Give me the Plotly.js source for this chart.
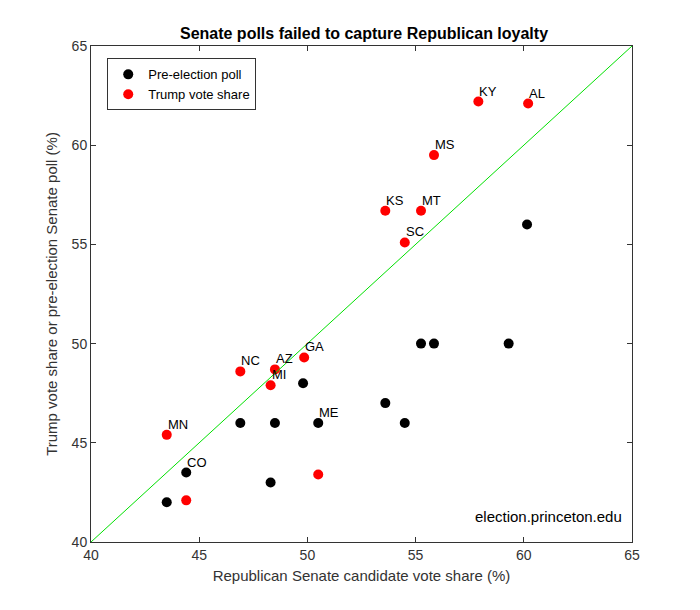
<!DOCTYPE html>
<html><head><meta charset="utf-8">
<script src="https://cdn.plot.ly/plotly-3.0.1.min.js"></script>
<style>body{margin:0;background:#fff}</style>
</head><body>
<div id="main" style="width:700px;height:610px"></div>
<script>
// Trump vote share (red) and pre-election poll (black), x = Republican Senate vote share
var trumpX = [57.9, 60.2, 55.85, 53.6, 55.25, 54.5, 49.85, 46.9, 48.5, 48.3, 43.5, 44.4, 50.5];
var trumpY = [62.2, 62.1, 59.5, 56.7, 56.7, 55.1, 49.3, 48.6, 48.7, 47.9, 45.4, 42.1, 43.4];
var trumpLabels = ['KY', 'AL', 'MS', 'KS', 'MT', 'SC', 'GA', 'NC', 'AZ', 'MI', 'MN', '', ''];

var pollX = [60.15, 55.25, 55.85, 59.3, 49.8, 46.9, 48.5, 50.5, 53.6, 54.5, 44.4, 48.3, 43.5];
var pollY = [56.0, 50.0, 50.0, 50.0, 48.0, 46.0, 46.0, 46.0, 47.0, 46.0, 43.5, 43.0, 42.0];
var pollLabels = ['', '', '', '', '', '', '', 'ME', '', '', 'CO', '', ''];

var diagX = [40, 65];

var txtFont = {family: 'Arial, Liberation Sans', size: 13, color: '#000'};

var data = [
  {x: pollX, y: pollY, mode: 'markers', type: 'scatter', name: 'Pre-election poll',
   marker: {color: '#000', size: 10}, hoverinfo: 'none'},
  {x: trumpX, y: trumpY, mode: 'markers', type: 'scatter', name: 'Trump vote share',
   marker: {color: '#ff0000', size: 10}, hoverinfo: 'none'},
  {x: diagX, y: diagX, mode: 'lines', type: 'scatter', showlegend: false,
   line: {color: '#00e000', width: 1}, hoverinfo: 'none'}
];

// state labels sit just up and right of their point
var annotations = [];
function addLabels(xs, ys, labels) {
  for (var i = 0; i < labels.length; i++) {
    if (!labels[i]) continue;
    annotations.push({x: xs[i], y: ys[i], text: labels[i], showarrow: false,
      xanchor: 'left', yanchor: 'bottom', xshift: -1, yshift: 1, font: txtFont});
  }
}
addLabels(pollX, pollY, pollLabels);
addLabels(trumpX, trumpY, trumpLabels);
annotations.push({xref: 'paper', yref: 'paper', x: 0.985, y: 0.03, xanchor: 'right', yanchor: 'bottom',
  text: 'election.princeton.edu', showarrow: false, font: {family: 'Arial, Liberation Sans', size: 15, color: '#000'}});

var axisStyle = {
  showline: true, mirror: 'ticks', linecolor: '#333', linewidth: 1,
  ticks: 'inside', ticklen: 5, tickcolor: '#333', dtick: 5,
  showgrid: false, zeroline: false,
  tickfont: {family: 'Arial, Liberation Sans', size: 14, color: '#333'}
};

var layout = {
  width: 700, height: 610,
  paper_bgcolor: '#fff', plot_bgcolor: '#fff',
  margin: {l: 91, r: 68, t: 46, b: 68},
  title: {text: '<b>Senate polls failed to capture Republican loyalty</b>',
          font: {family: 'Arial, Liberation Sans', size: 16, color: '#000'}, x: 0.52, y: 0.955},
  xaxis: Object.assign({range: [40, 65],
    title: {text: 'Republican Senate candidate vote share (%)', font: {family: 'Arial, Liberation Sans', size: 15, color: '#333'}, standoff: 8}}, axisStyle),
  yaxis: Object.assign({range: [40, 65],
    title: {text: 'Trump vote share or pre-election Senate poll (%)', font: {family: 'Arial, Liberation Sans', size: 15, color: '#333'}, standoff: 10}}, axisStyle),
  legend: {x: 0.03, y: 0.975, xanchor: 'left', yanchor: 'top', bgcolor: '#fff',
    bordercolor: '#333', borderwidth: 1, font: {family: 'Arial, Liberation Sans', size: 13, color: '#000'}},
  annotations: annotations
};

Plotly.newPlot('main', data, layout, {staticPlot: true});
</script>
</body></html>
